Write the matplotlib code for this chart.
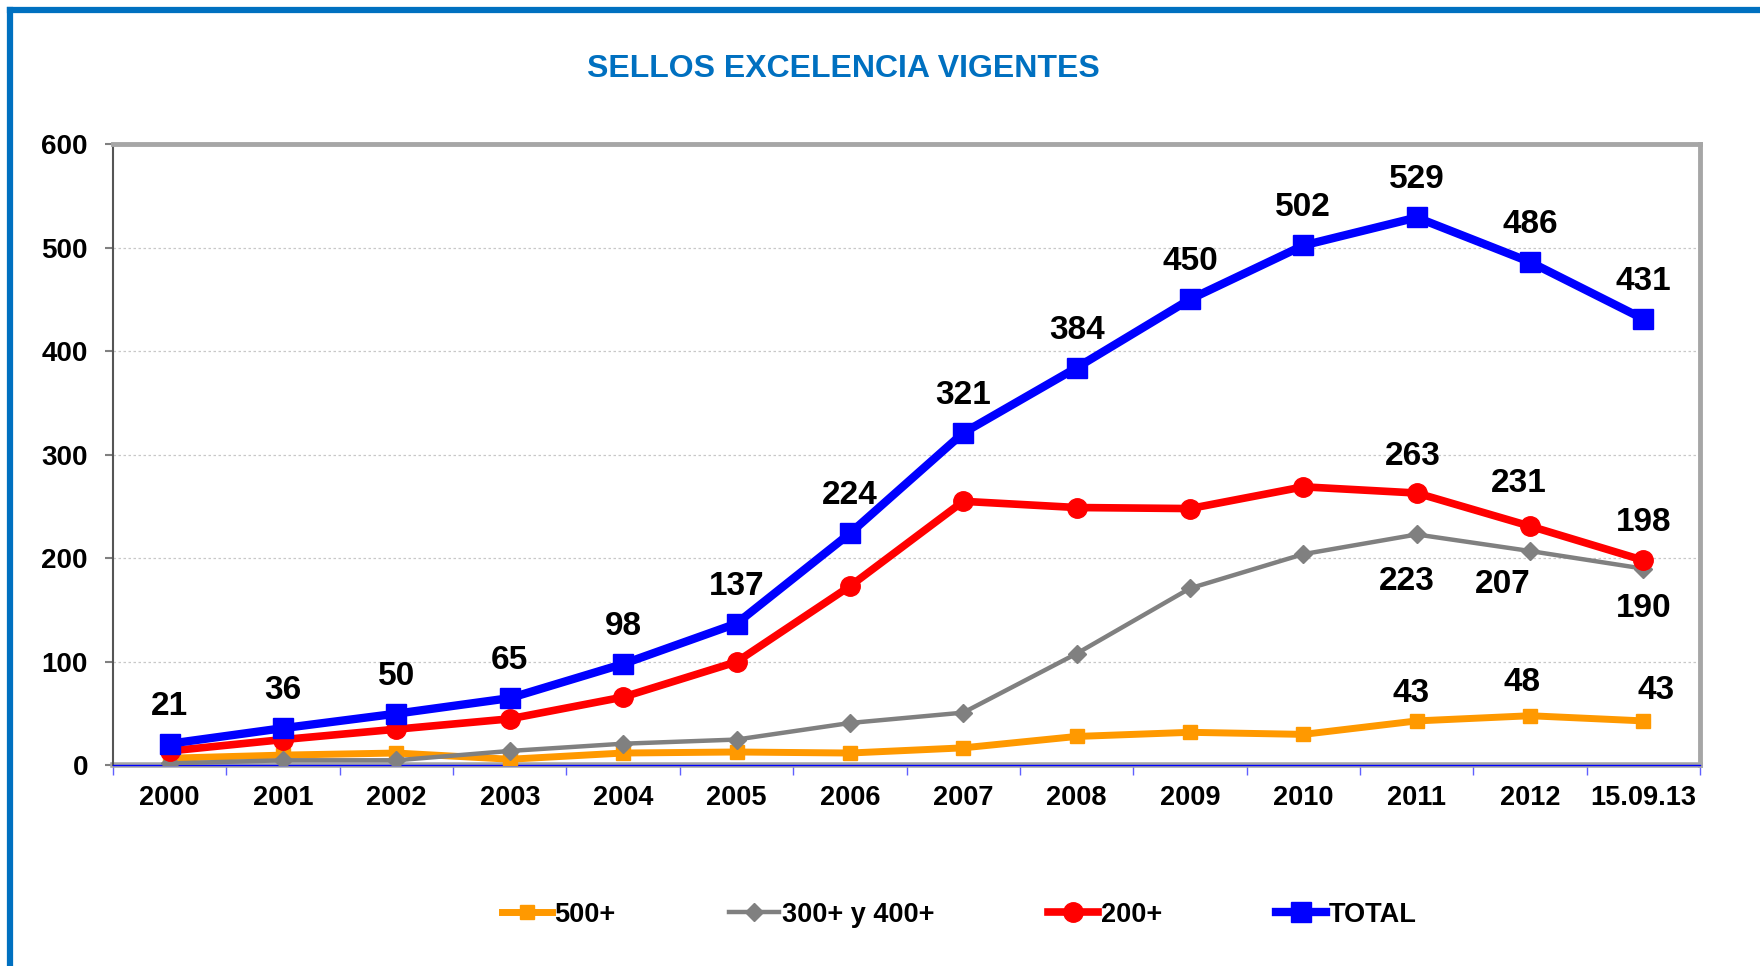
import matplotlib
matplotlib.use("Agg")
import matplotlib.pyplot as plt
from matplotlib.lines import Line2D

plt.rcParams['font.family'] = ['Liberation Sans', 'DejaVu Sans']

# datos
periodos = ['2000', '2001', '2002', '2003', '2004', '2005', '2006',
            '2007', '2008', '2009', '2010', '2011', '2012', '15.09.13']
s500 = [7, 10, 12, 6, 12, 13, 12, 17, 28, 32, 30, 43, 48, 43]
s300_400 = [2, 5, 5, 14, 21, 25, 41, 51, 108, 171, 204, 223, 207, 190]
s200 = [14, 25, 35, 45, 66, 100, 173, 255, 249, 248, 269, 263, 231, 198]
total = [21, 36, 50, 65, 98, 137, 224, 321, 384, 450, 502, 529, 486, 431]

fig = plt.figure(figsize=(17.6, 9.66), dpi=100)
ax = fig.add_axes([0.0642, 0.2076, 0.9018, 0.6434])

x = list(range(len(periodos)))

ax.plot(x, s500, color='#FF9900', lw=5, marker='s', ms=10, label='500+', zorder=3)
ax.plot(x, s300_400, color='#808080', lw=3.2, marker='D', ms=9, label='300+ y 400+', zorder=4)
ax.plot(x, s200, color='#FF0000', lw=5.5, marker='o', ms=14, label='200+', zorder=5)
ax.plot(x, total, color='#0000FF', lw=6, marker='s', ms=14, label='TOTAL', zorder=6)

lbl_kw = dict(textcoords='offset points', ha='center', va='center',
              fontsize=24, fontweight='bold', color='black', zorder=10)

# etiquetas de TOTAL
for i, v in enumerate(total):
    ax.annotate(str(v), (i, v), xytext=(0, 27), **lbl_kw)

# etiquetas de los ultimos periodos
off200 = [(-3, 26), (-8, 31), (0, 27)]
off300 = [(-7, -34), (-20, -24), (0, -29)]
off500 = [(-4, 20), (-6, 24), (9, 22)]
for k, i in enumerate(range(11, 14)):
    ax.annotate(str(s200[i]), (i, s200[i]), xytext=off200[k], **lbl_kw)
    ax.annotate(str(s300_400[i]), (i, s300_400[i]), xytext=off300[k], **lbl_kw)
    ax.annotate(str(s500[i]), (i, s500[i]), xytext=off500[k], **lbl_kw)

ax.set_xlim(-0.5, len(periodos) - 0.5)
ax.set_ylim(0, 600)
ax.set_yticks(range(0, 601, 100))
ax.set_xticks(x)
ax.set_xticklabels(periodos)
ax.set_xticks([i - 0.5 for i in range(len(periodos) + 1)], minor=True)
ax.tick_params(axis='x', which='major', length=0, pad=14, labelsize=19.5)
ax.tick_params(axis='x', which='minor', length=7, color='#6060FF', width=1, direction='out')
ax.tick_params(axis='y', length=6, color='#808080', width=1.5, pad=12, labelsize=20)
for t in ax.get_xticklabels() + ax.get_yticklabels():
    t.set_fontweight('bold')

ax.yaxis.grid(True, linestyle=(0, (2, 2)), color='#C8C8C8', lw=0.9)
ax.set_axisbelow(True)

for side in ['top', 'right']:
    ax.spines[side].set_color('#A6A6A6')
    ax.spines[side].set_linewidth(3.5)
ax.spines['left'].set_color('#555555')
ax.spines['left'].set_linewidth(1.5)
ax.spines['bottom'].set_color('#0000FF')
ax.spines['bottom'].set_linewidth(1)
ax.axhline(0, color='#A6A6A6', lw=4, zorder=1, clip_on=False)

fig.text(0.479, 0.929, 'SELLOS EXCELENCIA VIGENTES', ha='center', va='center',
         fontsize=23, fontweight='bold', color='#0070C0')

leg = fig.legend(loc='center', bbox_to_anchor=(0.545, 0.053), ncol=4, frameon=False,
                 handlelength=1.85, handletextpad=0.1, columnspacing=4.2,
                 prop={'size': 19.5, 'weight': 'bold'})

# marco azul de la figura
fig.add_artist(Line2D([10 / 1760, 10 / 1760], [0, 1 - 10 / 966], transform=fig.transFigure,
                      color='#0070C0', lw=4.5, solid_capstyle='projecting'))
fig.add_artist(Line2D([10 / 1760, 1], [1 - 10 / 966, 1 - 10 / 966], transform=fig.transFigure,
                      color='#0070C0', lw=4.5, solid_capstyle='projecting'))

fig.savefig('out.png', dpi=100)
